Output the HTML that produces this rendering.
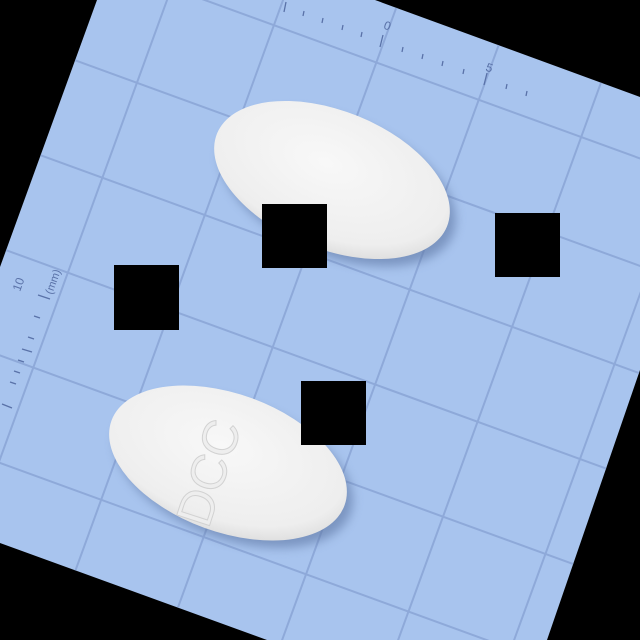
<!DOCTYPE html>
<html><head><meta charset="utf-8"><style>
html,body{margin:0;padding:0;background:#000;overflow:hidden;}
svg{display:block;}
</style></head><body>
<svg width="640" height="640" viewBox="0 0 640 640" xmlns="http://www.w3.org/2000/svg">
<defs>
<clipPath id="paperClip"><polygon points="97,0 375,0 640,97 640,370 547,640 267,640 0,543 0,267"/></clipPath>
<radialGradient id="pillG" cx="45%" cy="40%" r="65%">
<stop offset="0" stop-color="#f8f8f8"/><stop offset="0.8" stop-color="#eeeeee"/><stop offset="1" stop-color="#dadada"/>
</radialGradient>
<filter id="sh" x="-20%" y="-20%" width="140%" height="140%"><feGaussianBlur stdDeviation="5"/></filter>
</defs>
<rect width="640" height="640" fill="#000"/>
<polygon points="97,0 375,0 640,97 640,370 547,640 267,640 0,543 0,267" fill="#a8c4ee"/>
<g clip-path="url(#paperClip)">
<g transform="rotate(20)" stroke="#8ea9d9" stroke-width="2" fill="none">
<line x1="-170" y1="-600" x2="-170" y2="1200"/>
<line x1="-61" y1="-600" x2="-61" y2="1200"/>
<line x1="48" y1="-600" x2="48" y2="1200"/>
<line x1="157" y1="-600" x2="157" y2="1200"/>
<line x1="266" y1="-600" x2="266" y2="1200"/>
<line x1="375" y1="-600" x2="375" y2="1200"/>
<line x1="484" y1="-600" x2="484" y2="1200"/>
<line x1="593" y1="-600" x2="593" y2="1200"/>
<line x1="702" y1="-600" x2="702" y2="1200"/>
<line x1="811" y1="-600" x2="811" y2="1200"/>
<line x1="-600" y1="-272" x2="1200" y2="-272"/>
<line x1="-600" y1="-171" x2="1200" y2="-171"/>
<line x1="-600" y1="-70" x2="1200" y2="-70"/>
<line x1="-600" y1="31" x2="1200" y2="31"/>
<line x1="-600" y1="132" x2="1200" y2="132"/>
<line x1="-600" y1="233" x2="1200" y2="233"/>
<line x1="-600" y1="334" x2="1200" y2="334"/>
<line x1="-600" y1="435" x2="1200" y2="435"/>
<line x1="-600" y1="536" x2="1200" y2="536"/>
<line x1="-600" y1="637" x2="1200" y2="637"/>
</g>
</g>
<g stroke="#5a72a8" stroke-width="1.3">
<line x1="286" y1="2" x2="284" y2="12"/><line x1="383" y1="35" x2="380" y2="47"/><line x1="487" y1="73" x2="484" y2="85"/>
<line x1="304" y1="11" x2="303" y2="16"/><line x1="323" y1="18" x2="322" y2="23"/><line x1="343" y1="25" x2="342" y2="30"/><line x1="362" y1="32" x2="361" y2="37"/>
<line x1="403" y1="47" x2="402" y2="52"/><line x1="423" y1="54" x2="422" y2="59"/><line x1="443" y1="61" x2="442" y2="66"/><line x1="464" y1="69" x2="463" y2="74"/><line x1="507" y1="84" x2="506" y2="89"/><line x1="527" y1="91" x2="526" y2="96"/>
</g>
<text x="384" y="30" font-family="Liberation Sans, sans-serif" font-size="12" fill="#5a72a8" transform="rotate(20 388 26)">0</text>
<text x="486" y="72" font-family="Liberation Sans, sans-serif" font-size="12" fill="#5a72a8" transform="rotate(20 490 68)">5</text>
<g stroke="#5a72a8" stroke-width="1.3">
<line x1="38" y1="295" x2="50" y2="299"/><line x1="2" y1="404" x2="12" y2="408"/>
<line x1="34" y1="316" x2="40" y2="318"/><line x1="28" y1="337" x2="34" y2="339"/><line x1="22" y1="349" x2="32" y2="352"/><line x1="18" y1="360" x2="24" y2="362"/><line x1="14" y1="371" x2="20" y2="373"/><line x1="10" y1="382" x2="16" y2="384"/>
</g>
<text x="20" y="292" font-family="Liberation Sans, sans-serif" font-size="12" fill="#5a72a8" transform="rotate(-70 20 292)">10</text>
<text x="52" y="295" font-family="Liberation Sans, sans-serif" font-size="11" fill="#5a72a8" transform="rotate(-70 52 295)">(mm)</text>
<g>
<ellipse cx="338" cy="188" rx="124" ry="68" transform="rotate(22 338 188)" fill="#5d76a3" opacity="0.6" filter="url(#sh)"/>
<ellipse cx="332" cy="180" rx="124" ry="69" transform="rotate(22 332 180)" fill="url(#pillG)"/>
</g>
<g>
<ellipse cx="234" cy="471" rx="124" ry="68" transform="rotate(20 234 471)" fill="#5d76a3" opacity="0.6" filter="url(#sh)"/>
<ellipse cx="228" cy="463" rx="124" ry="69" transform="rotate(20 228 463)" fill="url(#pillG)"/>
<text x="225" y="478" font-family="Liberation Sans, sans-serif" font-size="50" fill="#eeeeee" stroke="#d2d2d2" stroke-width="1" text-anchor="middle" transform="rotate(-72 225 478)">DCC</text>
</g>
<rect x="262" y="204" width="65" height="64" fill="#000"/>
<rect x="495" y="213" width="65" height="64" fill="#000"/>
<rect x="114" y="265" width="65" height="65" fill="#000"/>
<rect x="301" y="381" width="65" height="64" fill="#000"/>
</svg>
</body></html>
